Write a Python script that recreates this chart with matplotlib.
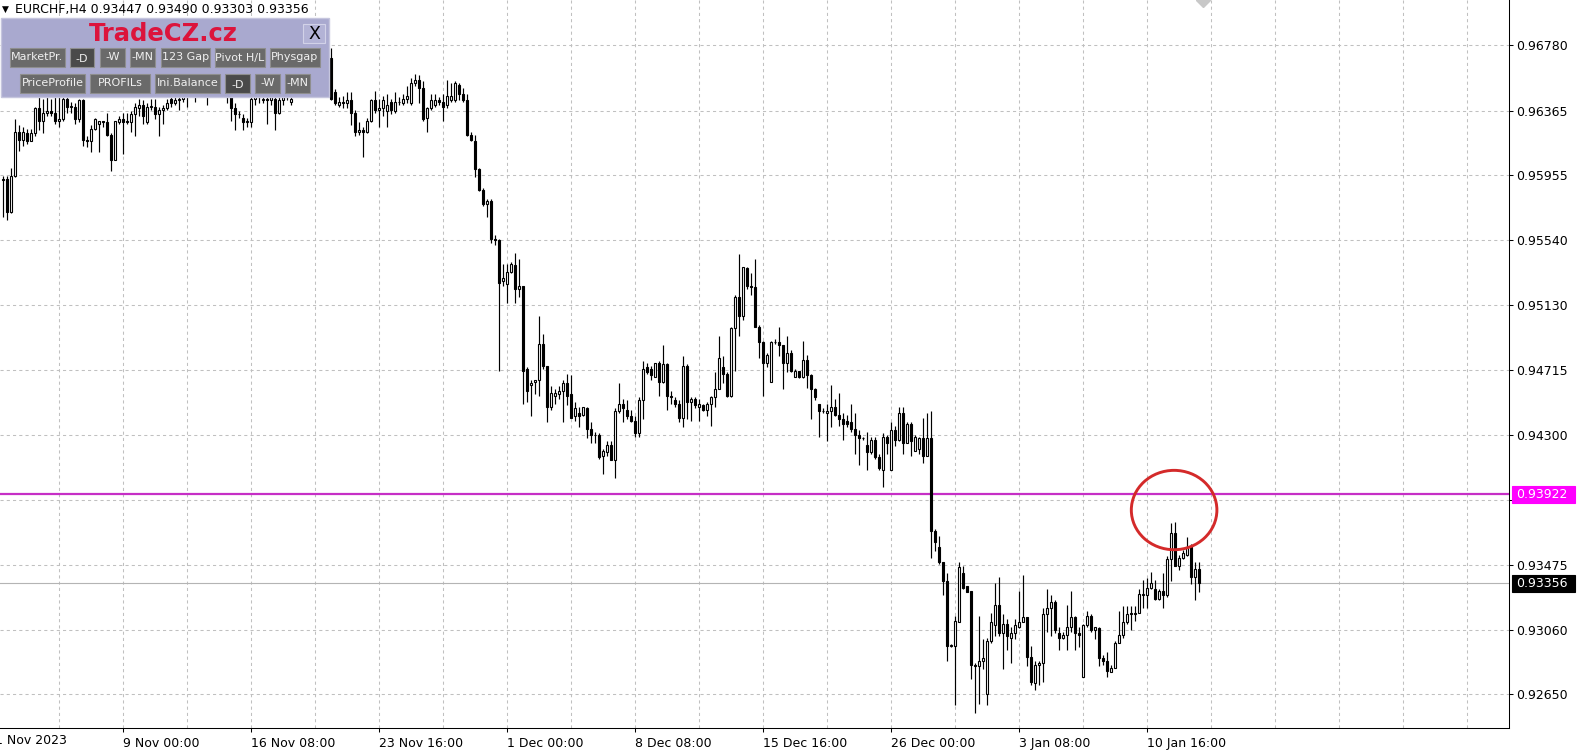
import numpy as np
import matplotlib.pyplot as plt
from matplotlib.patches import Rectangle, Ellipse
from matplotlib.lines import Line2D

# EURCHF H4 candles
opens = [
    0.9593, 0.9593, 0.9572, 0.9595, 0.9623, 0.9618, 0.9622, 0.9617, 0.9622, 0.9638,
    0.9630, 0.9635, 0.9636, 0.9635, 0.9630, 0.9631, 0.9644, 0.9639, 0.9639, 0.9631,
    0.9643, 0.9618, 0.9617, 0.9625, 0.9628, 0.9630, 0.9629, 0.9621, 0.9605, 0.9629,
    0.9631, 0.9630, 0.9629, 0.9634, 0.9638, 0.9640, 0.9629, 0.9639, 0.9639, 0.9634,
    0.9637, 0.9638, 0.9644, 0.9641, 0.9643, 0.9644, 0.9646, 0.9648, 0.9650, 0.9648,
    0.9650, 0.9652, 0.9649, 0.9651, 0.9653, 0.9650, 0.9652, 0.9647, 0.9638, 0.9634,
    0.9632, 0.9629, 0.9629, 0.9644, 0.9646, 0.9643, 0.9644, 0.9643, 0.9644, 0.9635,
    0.9643, 0.9645, 0.9642, 0.9646, 0.9649, 0.9653, 0.9655, 0.9658, 0.9661, 0.9659,
    0.9664, 0.9667, 0.9670, 0.9648, 0.9640, 0.9642, 0.9641, 0.9643, 0.9635, 0.9623,
    0.9624, 0.9623, 0.9630, 0.9643, 0.9637, 0.9638, 0.9636, 0.9642, 0.9636, 0.9642,
    0.9641, 0.9644, 0.9641, 0.9654, 0.9656, 0.9651, 0.9632, 0.9638, 0.9640, 0.9643,
    0.9642, 0.9640, 0.9643, 0.9643, 0.9653, 0.9647, 0.9643, 0.9621, 0.9617, 0.9599,
    0.9586, 0.9577, 0.9579, 0.9555, 0.9554, 0.9528, 0.9526, 0.9534, 0.9538, 0.9523,
    0.9525, 0.9472, 0.9462, 0.9464, 0.9465, 0.9488, 0.9474, 0.9448, 0.9455, 0.9456,
    0.9458, 0.9463, 0.9456, 0.9442, 0.9444, 0.9443, 0.9447, 0.9434, 0.9430, 0.9430,
    0.9417, 0.9419, 0.9424, 0.9414, 0.9445, 0.9450, 0.9446, 0.9442, 0.9439, 0.9431,
    0.9452, 0.9473, 0.9472, 0.9467, 0.9476, 0.9464, 0.9475, 0.9455, 0.9452, 0.9450,
    0.9441, 0.9474, 0.9451, 0.9453, 0.9448, 0.9449, 0.9446, 0.9450, 0.9454, 0.9459,
    0.9473, 0.9469, 0.9455, 0.9498, 0.9518, 0.9506, 0.9536, 0.9525, 0.9524, 0.9499,
    0.9489, 0.9476, 0.9464, 0.9489, 0.9489, 0.9487, 0.9476, 0.9482, 0.9467, 0.9471,
    0.9467, 0.9478, 0.9468, 0.9459, 0.9450, 0.9445, 0.9444, 0.9445, 0.9448, 0.9443,
    0.9440, 0.9439, 0.9438, 0.9434, 0.9430, 0.9428, 0.9424, 0.9419, 0.9427, 0.9416,
    0.9408, 0.9429, 0.9408, 0.9433, 0.9427, 0.9444, 0.9425, 0.9437, 0.9420, 0.9421,
    0.9428, 0.9417, 0.9428, 0.9369, 0.9359, 0.9349, 0.9337, 0.9296, 0.9296, 0.9311,
    0.9342, 0.9334, 0.9331, 0.9284, 0.9283, 0.9286, 0.9265, 0.9299, 0.9309, 0.9322,
    0.9304, 0.9310, 0.9301, 0.9304, 0.9308, 0.9311, 0.9314, 0.9289, 0.9272, 0.9284,
    0.9285, 0.9316, 0.9320, 0.9324, 0.9304, 0.9301, 0.9303, 0.9308, 0.9314, 0.9304,
    0.9276, 0.9309, 0.9315, 0.9306, 0.9307, 0.9288, 0.9286, 0.9279, 0.9282, 0.9298,
    0.9303, 0.9311, 0.9317, 0.9317, 0.9317, 0.9328, 0.9328, 0.9333, 0.9332, 0.9326,
    0.9331, 0.9328, 0.9351, 0.9368, 0.9347, 0.9352, 0.9354, 0.9359, 0.9340, 0.93447,
]
highs = [
    0.9595, 0.9595, 0.9600, 0.9631, 0.9627, 0.9626, 0.9625, 0.9625, 0.9639, 0.9645,
    0.9644, 0.9645, 0.9644, 0.9645, 0.9645, 0.9645, 0.9645, 0.9642, 0.9641, 0.9644,
    0.9644, 0.9620, 0.9627, 0.9632, 0.9630, 0.9630, 0.9635, 0.9622, 0.9630, 0.9633,
    0.9635, 0.9635, 0.9636, 0.9641, 0.9644, 0.9643, 0.9641, 0.9644, 0.9644, 0.9639,
    0.9640, 0.9644, 0.9646, 0.9646, 0.9646, 0.9650, 0.9652, 0.9654, 0.9655, 0.9655,
    0.9656, 0.9656, 0.9656, 0.9657, 0.9658, 0.9656, 0.9656, 0.9648, 0.9641, 0.9636,
    0.9634, 0.9632, 0.9647, 0.9649, 0.9649, 0.9648, 0.9648, 0.9649, 0.9646, 0.9645,
    0.9648, 0.9651, 0.9648, 0.9652, 0.9656, 0.9658, 0.9661, 0.9663, 0.9665, 0.9667,
    0.9670, 0.9673, 0.9676, 0.9650, 0.9645, 0.9646, 0.9648, 0.9648, 0.9637, 0.9629,
    0.9626, 0.9632, 0.9644, 0.9649, 0.9644, 0.9646, 0.9647, 0.9644, 0.9648, 0.9645,
    0.9647, 0.9652, 0.9657, 0.9660, 0.9659, 0.9655, 0.9639, 0.9647, 0.9647, 0.9645,
    0.9647, 0.9656, 0.9654, 0.9655, 0.9654, 0.9651, 0.9647, 0.9623, 0.9621, 0.9600,
    0.9587, 0.9580, 0.9580, 0.9557, 0.9555, 0.9539, 0.9539, 0.9540, 0.9546, 0.9542,
    0.9525, 0.9473, 0.9465, 0.9465, 0.9506, 0.9494, 0.9474, 0.9461, 0.9459, 0.9461,
    0.9465, 0.9469, 0.9468, 0.9451, 0.9448, 0.9448, 0.9448, 0.9438, 0.9432, 0.9431,
    0.9421, 0.9426, 0.9426, 0.9447, 0.9463, 0.9453, 0.9452, 0.9446, 0.9442, 0.9454,
    0.9477, 0.9476, 0.9474, 0.9476, 0.9477, 0.9487, 0.9476, 0.9458, 0.9454, 0.9452,
    0.9480, 0.9475, 0.9454, 0.9454, 0.9453, 0.9450, 0.9451, 0.9455, 0.9470, 0.9493,
    0.9480, 0.9470, 0.9499, 0.9519, 0.9545, 0.9537, 0.9537, 0.9533, 0.9542, 0.9500,
    0.9490, 0.9482, 0.9490, 0.9491, 0.9499, 0.9487, 0.9493, 0.9484, 0.9472, 0.9471,
    0.9490, 0.9481, 0.9469, 0.9460, 0.9450, 0.9447, 0.9450, 0.9462, 0.9453, 0.9457,
    0.9444, 0.9443, 0.9450, 0.9444, 0.9433, 0.9429, 0.9432, 0.9429, 0.9429, 0.9418,
    0.9431, 0.9430, 0.9438, 0.9436, 0.9448, 0.9448, 0.9438, 0.9438, 0.9430, 0.9429,
    0.9441, 0.9444, 0.9445, 0.9370, 0.9366, 0.9349, 0.9342, 0.9297, 0.9315, 0.9349,
    0.9347, 0.9334, 0.9331, 0.9285, 0.9315, 0.9300, 0.9301, 0.9317, 0.9336, 0.9340,
    0.9316, 0.9313, 0.9308, 0.9313, 0.9331, 0.9341, 0.9314, 0.9296, 0.9286, 0.9286,
    0.9320, 0.9332, 0.9328, 0.9325, 0.9308, 0.9305, 0.9322, 0.9331, 0.9315, 0.9308,
    0.9310, 0.9318, 0.9316, 0.9308, 0.9308, 0.9290, 0.9292, 0.9284, 0.9299, 0.9318,
    0.9321, 0.9321, 0.9321, 0.9321, 0.9332, 0.9338, 0.9339, 0.9343, 0.9338, 0.9332,
    0.9342, 0.9353, 0.9374, 0.9375, 0.9354, 0.9357, 0.9365, 0.9361, 0.9349, 0.93490,
]
lows = [
    0.9569, 0.9567, 0.9571, 0.9594, 0.9611, 0.9614, 0.9615, 0.9617, 0.9620, 0.9624,
    0.9622, 0.9633, 0.9633, 0.9628, 0.9626, 0.9630, 0.9635, 0.9635, 0.9628, 0.9629,
    0.9614, 0.9613, 0.9610, 0.9624, 0.9610, 0.9626, 0.9620, 0.9598, 0.9605, 0.9628,
    0.9609, 0.9628, 0.9623, 0.9620, 0.9633, 0.9628, 0.9628, 0.9637, 0.9631, 0.9620,
    0.9628, 0.9637, 0.9639, 0.9640, 0.9637, 0.9642, 0.9639, 0.9645, 0.9642, 0.9645,
    0.9646, 0.9640, 0.9646, 0.9648, 0.9647, 0.9646, 0.9641, 0.9630, 0.9624, 0.9632,
    0.9624, 0.9626, 0.9626, 0.9640, 0.9641, 0.9641, 0.9628, 0.9640, 0.9624, 0.9634,
    0.9640, 0.9643, 0.9640, 0.9645, 0.9647, 0.9649, 0.9651, 0.9654, 0.9656, 0.9657,
    0.9661, 0.9663, 0.9643, 0.9640, 0.9639, 0.9638, 0.9638, 0.9627, 0.9620, 0.9621,
    0.9607, 0.9622, 0.9629, 0.9635, 0.9626, 0.9633, 0.9626, 0.9634, 0.9635, 0.9640,
    0.9640, 0.9641, 0.9640, 0.9652, 0.9641, 0.9630, 0.9623, 0.9637, 0.9639, 0.9640,
    0.9630, 0.9638, 0.9642, 0.9642, 0.9643, 0.9642, 0.9620, 0.9617, 0.9594, 0.9585,
    0.9576, 0.9569, 0.9552, 0.9551, 0.9471, 0.9525, 0.9514, 0.9533, 0.9514, 0.9518,
    0.9450, 0.9451, 0.9442, 0.9456, 0.9455, 0.9472, 0.9438, 0.9446, 0.9450, 0.9453,
    0.9438, 0.9449, 0.9441, 0.9439, 0.9435, 0.9442, 0.9428, 0.9425, 0.9425, 0.9415,
    0.9405, 0.9417, 0.9414, 0.9403, 0.9444, 0.9438, 0.9440, 0.9438, 0.9429, 0.9429,
    0.9440, 0.9469, 0.9465, 0.9467, 0.9455, 0.9463, 0.9446, 0.9450, 0.9448, 0.9438,
    0.9435, 0.9440, 0.9439, 0.9447, 0.9439, 0.9445, 0.9442, 0.9436, 0.9448, 0.9459,
    0.9463, 0.9454, 0.9454, 0.9471, 0.9493, 0.9503, 0.9523, 0.9519, 0.9499, 0.9479,
    0.9455, 0.9473, 0.9464, 0.9488, 0.9480, 0.9459, 0.9470, 0.9470, 0.9467, 0.9466,
    0.9466, 0.9460, 0.9440, 0.9452, 0.9429, 0.9444, 0.9426, 0.9435, 0.9442, 0.9436,
    0.9427, 0.9435, 0.9432, 0.9418, 0.9411, 0.9427, 0.9408, 0.9418, 0.9415, 0.9408,
    0.9397, 0.9418, 0.9408, 0.9423, 0.9426, 0.9418, 0.9425, 0.9417, 0.9420, 0.9418,
    0.9412, 0.9417, 0.9352, 0.9356, 0.9348, 0.9328, 0.9286, 0.9295, 0.9258, 0.9311,
    0.9332, 0.9330, 0.9275, 0.9253, 0.9259, 0.9281, 0.9258, 0.9298, 0.9302, 0.9302,
    0.9281, 0.9293, 0.9285, 0.9300, 0.9307, 0.9311, 0.9283, 0.9271, 0.9268, 0.9271,
    0.9273, 0.9305, 0.9302, 0.9304, 0.9293, 0.9300, 0.9293, 0.9305, 0.9293, 0.9295,
    0.9276, 0.9308, 0.9305, 0.9300, 0.9283, 0.9284, 0.9276, 0.9279, 0.9282, 0.9298,
    0.9301, 0.9310, 0.9306, 0.9312, 0.9317, 0.9320, 0.9320, 0.9332, 0.9325, 0.9325,
    0.9320, 0.9327, 0.9337, 0.9347, 0.9344, 0.9351, 0.9353, 0.9335, 0.9325, 0.93303,
]
closes = [
    0.9592, 0.9572, 0.9595, 0.9623, 0.9618, 0.9623, 0.9617, 0.9622, 0.9638, 0.9630,
    0.9635, 0.9636, 0.9635, 0.9630, 0.9631, 0.9644, 0.9639, 0.9639, 0.9631, 0.9643,
    0.9618, 0.9617, 0.9625, 0.9631, 0.9630, 0.9629, 0.9621, 0.9605, 0.9630, 0.9631,
    0.9629, 0.9629, 0.9634, 0.9639, 0.9640, 0.9633, 0.9639, 0.9639, 0.9634, 0.9637,
    0.9638, 0.9641, 0.9641, 0.9643, 0.9644, 0.9646, 0.9648, 0.9650, 0.9648, 0.9650,
    0.9652, 0.9649, 0.9651, 0.9653, 0.9650, 0.9652, 0.9648, 0.9638, 0.9634, 0.9634,
    0.9629, 0.9630, 0.9644, 0.9646, 0.9645, 0.9644, 0.9643, 0.9645, 0.9635, 0.9643,
    0.9645, 0.9647, 0.9644, 0.9649, 0.9653, 0.9655, 0.9658, 0.9661, 0.9659, 0.9664,
    0.9667, 0.9670, 0.9644, 0.9641, 0.9642, 0.9641, 0.9643, 0.9635, 0.9623, 0.9624,
    0.9623, 0.9630, 0.9643, 0.9637, 0.9638, 0.9643, 0.9640, 0.9637, 0.9642, 0.9642,
    0.9644, 0.9646, 0.9654, 0.9656, 0.9651, 0.9631, 0.9638, 0.9643, 0.9643, 0.9642,
    0.9639, 0.9646, 0.9646, 0.9654, 0.9647, 0.9643, 0.9621, 0.9618, 0.9599, 0.9586,
    0.9577, 0.9579, 0.9555, 0.9554, 0.9527, 0.9530, 0.9534, 0.9539, 0.9523, 0.9525,
    0.9471, 0.9458, 0.9463, 0.9465, 0.9488, 0.9474, 0.9448, 0.9457, 0.9457, 0.9458,
    0.9463, 0.9455, 0.9441, 0.9447, 0.9442, 0.9448, 0.9434, 0.9430, 0.9430, 0.9416,
    0.9420, 0.9424, 0.9414, 0.9445, 0.9450, 0.9447, 0.9442, 0.9439, 0.9431, 0.9452,
    0.9472, 0.9470, 0.9468, 0.9476, 0.9464, 0.9475, 0.9455, 0.9454, 0.9450, 0.9441,
    0.9474, 0.9451, 0.9453, 0.9449, 0.9450, 0.9446, 0.9450, 0.9454, 0.9459, 0.9479,
    0.9469, 0.9455, 0.9498, 0.9518, 0.9506, 0.9537, 0.9525, 0.9524, 0.9499, 0.9489,
    0.9476, 0.9481, 0.9489, 0.9489, 0.9487, 0.9476, 0.9482, 0.9471, 0.9471, 0.9467,
    0.9478, 0.9468, 0.9459, 0.9454, 0.9445, 0.9445, 0.9445, 0.9448, 0.9443, 0.9440,
    0.9437, 0.9437, 0.9434, 0.9430, 0.9428, 0.9428, 0.9419, 0.9427, 0.9416, 0.9409,
    0.9429, 0.9425, 0.9433, 0.9427, 0.9444, 0.9425, 0.9437, 0.9426, 0.9429, 0.9428,
    0.9417, 0.9428, 0.9369, 0.9362, 0.9349, 0.9337, 0.9296, 0.9296, 0.9312, 0.9346,
    0.9333, 0.9330, 0.9284, 0.9283, 0.9286, 0.9288, 0.9299, 0.9311, 0.9322, 0.9304,
    0.9310, 0.9302, 0.9304, 0.9309, 0.9311, 0.9314, 0.9289, 0.9273, 0.9284, 0.9285,
    0.9316, 0.9320, 0.9324, 0.9306, 0.9301, 0.9303, 0.9308, 0.9314, 0.9304, 0.9303,
    0.9309, 0.9315, 0.9306, 0.9308, 0.9288, 0.9286, 0.9280, 0.9282, 0.9298, 0.9303,
    0.9311, 0.9316, 0.9316, 0.9316, 0.9329, 0.9329, 0.9333, 0.9336, 0.9326, 0.9331,
    0.9328, 0.9351, 0.9368, 0.9347, 0.9352, 0.9355, 0.9359, 0.9340, 0.9345, 0.93356,
]

price_ticks = [0.96780, 0.96365, 0.95955, 0.95540, 0.95130, 0.94715, 0.94300,
               0.93885, 0.93475, 0.93060, 0.92650]
price_labels = ['0.96780', '0.96365', '0.95955', '0.95540', '0.95130', '0.94715',
                '0.94300', '', '0.93475', '0.93060', '0.92650']
date_pos = [30, 62, 94, 126, 158, 190, 222, 254, 286]
date_labels = ['9 Nov 00:00', '16 Nov 08:00', '23 Nov 16:00',
               '1 Dec 00:00', '8 Dec 08:00', '15 Dec 16:00', '26 Dec 00:00',
               '3 Jan 08:00', '10 Jan 16:00']
first_date = '1 Nov 2023'
level_price = 0.93922
bid_price = 0.93356
title = 'EURCHF,H4 0.93447 0.93490 0.93303 0.93356'

W, H = 1578, 754
fig = plt.figure(figsize=(W / 100, H / 100), dpi=100)
fig.patch.set_facecolor('white')
ax = fig.add_axes([0, 1 - 728 / H, 1509 / W, 728 / H])

o = np.array(opens)
h = np.array(highs)
l = np.array(lows)
c = np.array(closes)
x = np.arange(len(o))

# grid
for v in price_ticks:
    ax.axhline(v, color='#c0c0c0', lw=0.75, ls=(0, (3, 3)), zorder=0.5)
for i in range(14, 377, 16):
    ax.axvline(i, color='#c0c0c0', lw=0.75, ls=(0, (3, 3)), zorder=0.5)

ax.axhline(level_price, color='#c62fc6', lw=1.6, zorder=1)
ax.axhline(bid_price, color='#b4b4b4', lw=0.8, zorder=1)

# candles
ax.vlines(x, l, h, color='black', lw=0.85, zorder=2)
up = c >= o
bottom = np.minimum(o, c)
height = np.maximum(np.abs(c - o), 0.000012)
ax.bar(x[up], height[up], bottom=bottom[up], width=0.5, facecolor='white',
       edgecolor='black', lw=0.8, zorder=3)
ax.bar(x[~up], height[~up], bottom=bottom[~up], width=0.5, facecolor='black',
       edgecolor='black', lw=0.8, zorder=3)

ax.add_patch(Ellipse((292.8, 0.93823), 21.4, 0.00505, fill=False,
                     edgecolor='#d42a2a', lw=2.1, zorder=4))

ax.set_xlim(-0.825, 376.55)
ax.set_ylim(0.924362, 0.970682)

ax.yaxis.tick_right()
ax.set_yticks(price_ticks)
ax.set_yticklabels(price_labels)
ax.set_xticks(date_pos)
ax.set_xticklabels(date_labels, ha='left')
ax.tick_params(axis='y', length=3, width=0.75, pad=2, labelsize=9)
ax.tick_params(axis='x', length=3, width=0.75, pad=3.5, labelsize=9)
for s in ['top', 'left']:
    ax.spines[s].set_visible(False)
for s in ['right', 'bottom']:
    ax.spines[s].set_linewidth(0.75)


def px(xp, yp):
    return xp / W, 1 - yp / H


def box(x0, y0, x1, y1, fc, ec, lw=0.8):
    r = Rectangle(px(x0, y1), (x1 - x0) / W, (y1 - y0) / H, transform=fig.transFigure,
                  facecolor=fc, edgecolor=ec, lw=lw)
    fig.add_artist(r)
    return r


# first date label, cut by the left edge
fig.text(*px(-5, 741), first_date, fontsize=9, va='center')

# price boxes on the right axis
box(1512, 486, 1575, 503, '#ff00ff', '#ff00ff')
fig.text(*px(1516, 494.5), '0.93922', color='white', fontsize=9, va='center')
box(1512, 575, 1575, 592, 'black', 'black')
fig.text(*px(1516, 583.5), '0.93356', color='white', fontsize=9, va='center')

# small object marker at the top edge
fig.add_artist(Line2D([1203 / W], [1.0], marker='D', ms=7, color='#c8c8c8',
                      transform=fig.transFigure))

# header
fig.text(*px(2, 9), '\u25bc', fontsize=6.5, va='center')
fig.text(*px(15, 9), title, fontsize=9, va='center')

# TradeCZ panel
box(1, 18, 329, 97, '#a9a9cf', '#c6c6de', lw=1)
fig.text(*px(163, 34), 'TradeCZ.cz', color='#dc143c', fontsize=17.5,
         fontweight='bold', ha='center', va='center')
box(303, 24, 325, 43, '#b3b3d6', '#d2d2e8')
fig.text(*px(314, 34), 'X', fontsize=12.5, ha='center', va='center')

buttons = [
    (10, 65, 48, 67, 'MarketPr.', False), (70, 94, 48, 67, '-D', True),
    (100, 125, 48, 67, '-W', False), (130, 155, 48, 67, '-MN', False),
    (161, 210, 48, 67, '123 Gap', False), (215, 265, 48, 67, 'Pivot H/L', False),
    (270, 320, 48, 67, 'Physgap', False),
    (20, 85, 74, 93, 'PriceProfile', False), (90, 150, 74, 93, 'PROFILs', False),
    (155, 220, 74, 93, 'Ini.Balance', False), (225, 250, 74, 93, '-D', True),
    (255, 280, 74, 93, '-W', False), (285, 310, 74, 93, '-MN', False),
]
for x0, x1, y0, y1, lab, dark in buttons:
    r = box(x0, y0, x1, y1, '#4a4a4a' if dark else '#6a6a6a', '#8e8e8e')
    t = fig.text(*px((x0 + x1) / 2, (y0 + y1) / 2 + (1.5 if dark else 0)), lab,
                 color='#f0f0f0', fontsize=8, ha='center', va='center')
    t.set_clip_path(r)

fig.savefig('out.png', dpi=100)
